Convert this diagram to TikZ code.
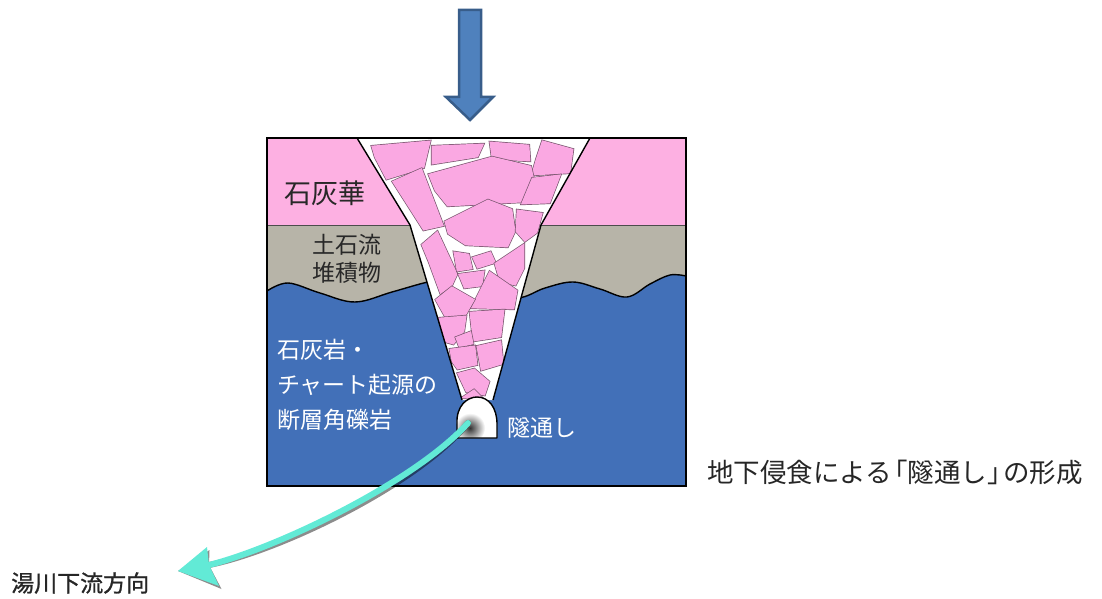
\documentclass[tikz,border=0pt]{standalone}
\usepackage{fontspec}
\newfontfamily\jp{Noto Sans CJK JP}
\newfontfamily\jpheavy[FakeBold=1]{Noto Sans CJK JP}
\definecolor{travpink}{RGB}{253,176,226}
\definecolor{fragpink}{RGB}{250,168,226}
\definecolor{fragedge}{RGB}{120,85,110}
\definecolor{debrisgray}{RGB}{183,180,168}
\definecolor{rockblue}{RGB}{66,112,184}
\definecolor{arrowfill}{RGB}{79,129,189}
\definecolor{arrowedge}{RGB}{56,93,138}
\definecolor{flowcyan}{RGB}{98,234,214}
\definecolor{inkdark}{RGB}{40,40,40}
\tikzset{
  outline/.style={draw=black, line width=1.4, line join=round},
  jplabel/.style={anchor=west, inner sep=0pt, align=left},
  flowline/.style={line width=6, line cap=round},
}
% a breccia block: thin dark rim round a pink polygon, grown slightly outward
\newcommand\brecciablock[1]{%
  \path[draw=fragedge, line width=4.2, line join=miter] #1;
  \path[fill=fragpink, draw=fragpink, line width=2.8, line join=miter] #1;}
% outflow arrow: curved shaft plus a notched head
\newcommand\outflowarrow[1]{%
  \draw[flowline, draw=#1] (mouth) .. controls (415,482) and (277,548) .. (headbase);
  \fill[#1] (flowtip) -- (207,547) -- (headbase) -- (219,586) -- cycle;}
\begin{document}
\begin{tikzpicture}[x=1pt, y=-1pt]
\useasboundingbox (0,0) rectangle (1102,599);

% --- strata ---------------------------------------------------------
\fill[debrisgray] (267,225) rectangle (686,486);
\fill[rockblue] plot[smooth, tension=0.6] coordinates {(267,291) (288,283) (320,293) (355,302) (392,292) (428,282) (445,281) (480,290) (517,298) (545,288) (573,282) (600,289) (627,297) (650,284) (670,275) (686,276)}
  -- (686,486) -- (267,486) -- cycle;
\fill[travpink] (267,138) rectangle (686,225);
\draw[draw=black!70, line width=0.8] (267,225) -- (686,225);
\draw[outline] plot[smooth, tension=0.6] coordinates {(267,291) (288,283) (320,293) (355,302) (392,292) (428,282) (445,281) (480,290) (517,298) (545,288) (573,282) (600,289) (627,297) (650,284) (670,275) (686,276)};

% --- collapse funnel -------------------------------------------------
\fill[white] (357,138) -- (410,225) -- (462,400) -- (493,400) -- (541,225) -- (590,138) -- cycle;

% breccia blocks, kept inside the funnel
\begin{scope}
\clip (357,138) -- (410,225) -- (462,400) -- (493,400) -- (541,225) -- (590,138) -- cycle;
\brecciablock{(373,147) -- (429,142) -- (423,167) -- (387,178) -- (376,157) -- cycle}
\brecciablock{(394,182) -- (421,170) -- (442,225) -- (424,229) -- cycle}
\brecciablock{(433,147) -- (482,145) -- (477,156) -- (433,163) -- cycle}
\brecciablock{(491,143) -- (528,146) -- (529,160) -- (493,158) -- cycle}
\brecciablock{(543,142) -- (572,150) -- (569,172) -- (533,174) -- (537,160) -- cycle}
\brecciablock{(430,175) -- (492,158) -- (530,167) -- (533,180) -- (523,201) -- (448,205) -- (436,190) -- cycle}
\brecciablock{(533,179) -- (559,176) -- (549,202) -- (523,203) -- cycle}
\brecciablock{(446,222) -- (488,201) -- (511,210) -- (514,231) -- (507,246) -- (466,244) -- (449,233) -- cycle}
\brecciablock{(518,211) -- (541,214) -- (536,232) -- (525,240) -- (517,231) -- cycle}
\brecciablock{(423,245) -- (437,233) -- (456,274) -- (451,285) -- (441,292) -- (430,262) -- cycle}
\brecciablock{(455,253) -- (468,255) -- (471,268) -- (458,270) -- cycle}
\brecciablock{(474,258) -- (490,253) -- (494,262) -- (478,267) -- cycle}
\brecciablock{(496,264) -- (523,246) -- (523,268) -- (515,284) -- (501,281) -- cycle}
\brecciablock{(460,275) -- (483,272) -- (481,285) -- (465,287) -- cycle}
\brecciablock{(473,307) -- (490,273) -- (516,291) -- (513,308) -- cycle}
\brecciablock{(437,300) -- (452,288) -- (473,300) -- (465,314) -- (446,316) -- cycle}
\brecciablock{(440,319) -- (465,317) -- (463,331) -- (453,343) -- (446,341) -- cycle}
\brecciablock{(471,313) -- (503,311) -- (500,336) -- (474,340) -- cycle}
\brecciablock{(457,338) -- (470,333) -- (472,343) -- (460,346) -- cycle}
\brecciablock{(451,350) -- (474,347) -- (476,364) -- (458,368) -- (453,361) -- cycle}
\brecciablock{(478,347) -- (500,342) -- (502,363) -- (482,369) -- cycle}
\brecciablock{(459,374) -- (474,370) -- (488,382) -- (484,394) -- (467,391) -- cycle}
\brecciablock{(465,397) -- (474,391) -- (481,398) -- cycle}
\end{scope}
\draw[outline] (357,138) -- (410,225) -- (462,400);
\draw[outline] (493,400) -- (541,225) -- (590,138);

% --- tunnel ------------------------------------------------------------
\path[fill=white] (457,438) -- (457,424) .. controls (456,406) and (467,397) .. (477,397)
  .. controls (489,397) and (497,408) .. (497,424) -- (497,438) -- cycle;
\begin{scope}
  \clip (457,438) -- (457,424) .. controls (456,406) and (467,397) .. (477,397)
    .. controls (489,397) and (497,408) .. (497,424) -- (497,438) -- cycle;
  \shade[inner color=black!80, outer color=white] (470,428) circle (15);
\end{scope}
\draw[outline] (457,438) -- (457,424) .. controls (456,406) and (467,397) .. (477,397)
  .. controls (489,397) and (497,408) .. (497,424) -- (497,438) -- cycle;

% section frame
\draw[draw=black, line width=1.5] (267,138) rectangle (686,486);

% --- labels ------------------------------------------------------------
\node[jplabel, text=inkdark, font=\jp\fontsize{27}{30}\selectfont] (travertine) at (284,193) {石灰華};
\node[jplabel, text=inkdark, font=\jp\fontsize{23}{28}\selectfont] (debris) at (312,259) {土石流\\堆積物};
\node[jplabel, text=white, font=\jp\fontsize{23}{35}\selectfont] (breccia) at (277,385) {石灰岩・\\チャート起源の\\断層角礫岩};
\node[jplabel, text=white, font=\jp\fontsize{23}{28}\selectfont] (tunnellabel) at (507,428) {隧通し};
\node[jplabel, text=black!85, font=\jp\fontsize{26.5}{30}\selectfont] (caption) at (707,472) {地下侵食による\kern-0.4em「隧通し」\kern-0.4emの形成};
\node[jplabel, text=black!85, font=\jpheavy\fontsize{23}{28}\selectfont] (downstream) at (11,583) {湯川下流方向};

% --- downward arrow ----------------------------------------------------
\path[fill=arrowfill, draw=arrowedge, line width=2.5, line join=miter]
  (459,10) -- (481,10) -- (481,97) -- (493,97) -- (470,120) -- (446,97) -- (459,97) -- cycle;

% --- outflow arrow -----------------------------------------------------
\coordinate (mouth) at (468,423);
\coordinate (headbase) at (209,565);
\coordinate (flowtip) at (178,571);
\begin{scope}[transparency group, opacity=0.45, shift={(2.5,3)}]
  \outflowarrow{black}
\end{scope}
\outflowarrow{flowcyan}
\end{tikzpicture}
\end{document}
